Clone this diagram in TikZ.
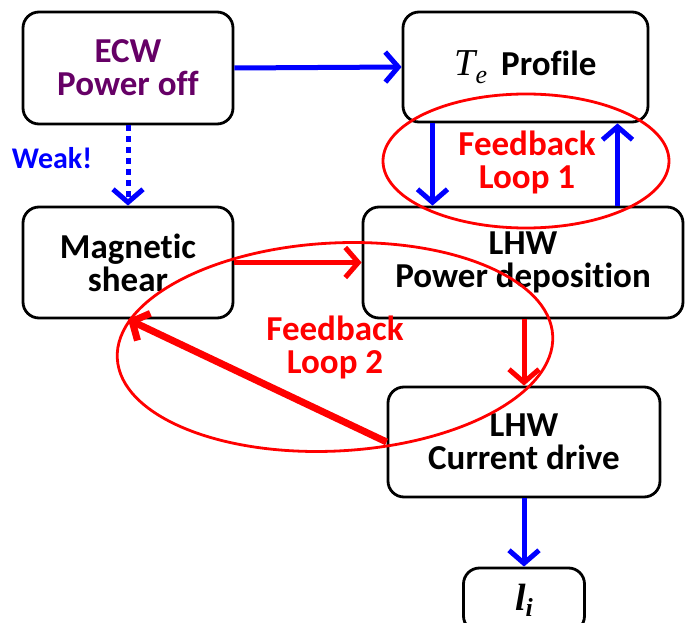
\documentclass[tikz,border=0pt]{standalone}
\usepackage{fontspec}
\setmainfont{Carlito}[Ligatures=NoCommon]
\newfontfamily\lifont{Liberation Serif}
\usetikzlibrary{arrows.meta}
\definecolor{ecwpurple}{HTML}{660066}
\begin{document}
\begin{tikzpicture}[x=1pt,y=-1pt,
  txt/.style={font=\fontsize{35}{33}\selectfont\bfseries, align=center, inner sep=0pt},
  box/.style={txt, draw=black, line width=2.8pt, rounded corners=16pt},
  barb/.style={-{Straight Barb[length=13pt,width=30pt]}},
  bluearr/.style={draw=blue, line width=5pt, barb},
  redarr/.style={draw=red, line width=5pt, barb},
  loop/.style={draw=red, line width=2.8pt}]
\useasboundingbox (0,0) rectangle (686,623);
% boxes
\node[box, minimum width=210pt, minimum height=112pt, text=ecwpurple] (ecw) at (128,68) {ECW\\Power off};
\node[box, minimum width=245pt, minimum height=110pt] (te) at (525.5,67) {{\fontsize{38}{40}\lifont\mdseries\itshape T\raisebox{-8pt}{\fontsize{26}{28}\selectfont e}}\hspace{14pt}Profile};
\node[box, minimum width=210pt, minimum height=111pt] (mag) at (128,262.5) {Magnetic\\shear};
\node[box, minimum width=320pt, minimum height=111pt] (lpd) at (523,262.5) {LHW\\Power deposition};
\node[box, minimum width=272pt, minimum height=110pt] (lcd) at (524,442) {LHW\\Current drive};
\node[box, minimum width=121pt, minimum height=64pt, font=\fontsize{38}{40}\lifont\bfseries\itshape] (li) at (524,600) {l\raisebox{-6pt}{\fontsize{26}{28}\selectfont i}};
% loops
\draw[loop] (526,161) ellipse [x radius=143pt, y radius=67pt];
\draw[loop, rotate around={3:(335,347)}] (335,347) ellipse [x radius=218pt, y radius=104pt];
\node[txt, text=red] (fb1) at (527,162) {Feedback\\Loop 1};
\node[txt, text=red] (fb2) at (335,347) {Feedback\\Loop 2};
\node[txt, text=blue, font=\fontsize{30}{33}\selectfont\bfseries] (weak) at (52,158) {Weak!};
% blue connectors
\draw[bluearr] (ecw.east) -- (te.west);
\draw[bluearr, dash pattern=on 6pt off 5pt] (ecw.south) -- (mag.north);
\draw[bluearr] ([xshift=-93pt]te.south) -- ([xshift=-93pt]te.south |- lpd.north);
\draw[bluearr] ([xshift=92pt]te.south |- lpd.north) -- ([xshift=92pt]te.south);
\draw[bluearr] (lcd.south) -- (li.north);
% red connectors
\draw[redarr] (mag.east) -- (lpd.west);
\draw[redarr] (lpd.south -| lcd.north) -- (lcd.north);
\draw[redarr, line width=7pt] (lcd.west) -- (mag.south);
\end{tikzpicture}
\end{document}
